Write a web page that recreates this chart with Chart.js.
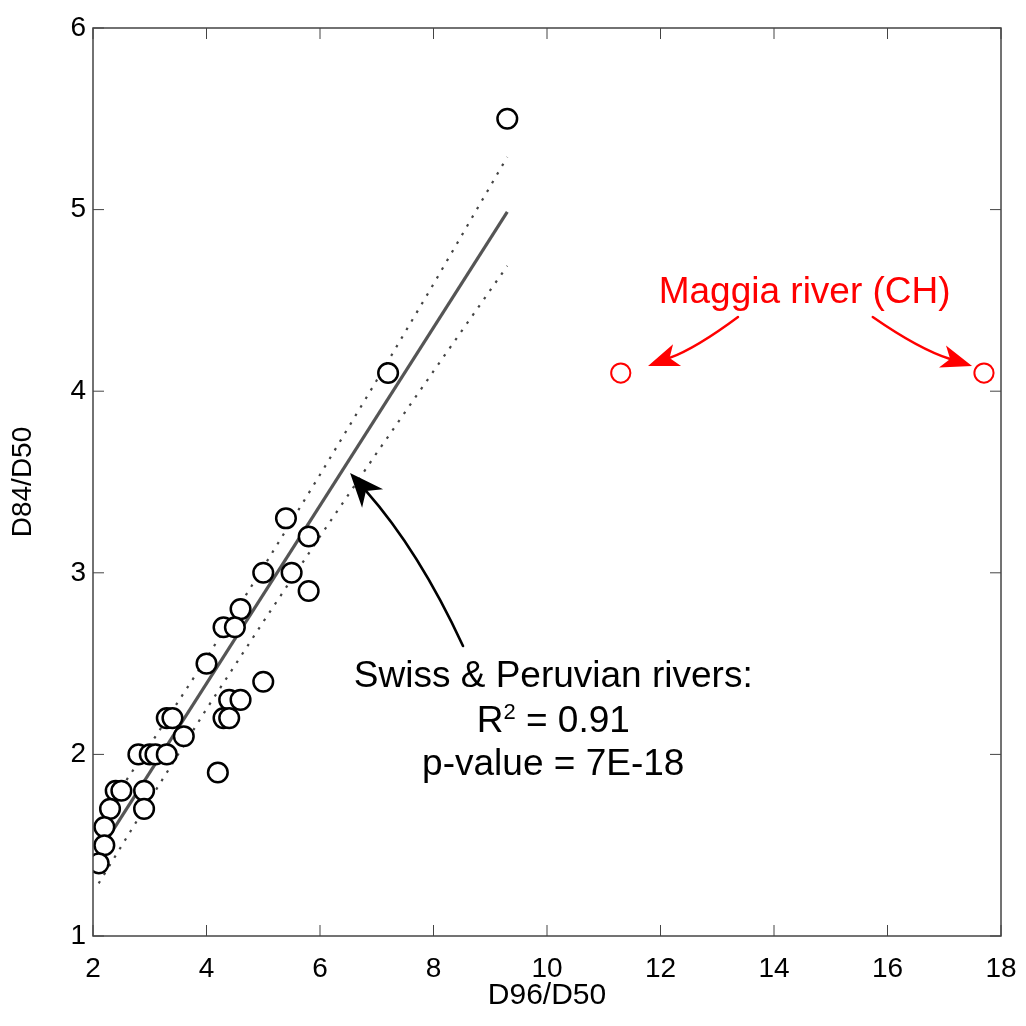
<!DOCTYPE html>
<html><head><meta charset="utf-8">
<script src="https://cdn.jsdelivr.net/npm/chart.js@4.4.1/dist/chart.umd.min.js"></script>
<style>html,body{margin:0;padding:0;background:#fff}#wrap{width:1026px;height:1026px}</style>
</head><body><div id="wrap"><canvas id="c" width="1026" height="1026"></canvas></div>
<script>
// ---- data ----
const xTicks = [2, 4, 6, 8, 10, 12, 14, 16, 18];
const yTicks = [1, 2, 3, 4, 5, 6];
const swissX = [9.3, 7.2, 5.4, 5.8, 5.0, 5.5, 5.8, 4.6, 4.3, 4.5, 4.0, 5.0, 4.4, 4.6, 4.3, 4.4, 3.3, 3.4, 3.6, 2.8, 3.0, 3.1, 3.3, 4.2, 2.4, 2.5, 2.9, 2.3, 2.9, 2.2, 2.2, 2.1];
const swissY = [5.5, 4.1, 3.3, 3.2, 3.0, 3.0, 2.9, 2.8, 2.7, 2.7, 2.5, 2.4, 2.3, 2.3, 2.2, 2.2, 2.2, 2.2, 2.1, 2.0, 2.0, 2.0, 2.0, 1.9, 1.8, 1.8, 1.8, 1.7, 1.7, 1.6, 1.5, 1.4];
const maggiaX = [11.3, 17.7];
const maggiaY = [4.1, 4.1];
const fitX = [2.1, 9.3];
const fitY = [1.459, 4.987];
const bandX = [2.1, 3, 4, 5, 6, 7, 8, 9.3];
const bandUpper = [1.63, 2.05, 2.53, 3.03, 3.54, 4.06, 4.59, 5.29];
const bandLower = [1.29, 1.75, 2.25, 2.73, 3.20, 3.66, 4.11, 4.69];

const pts = (xs, ys) => xs.map((x, i) => ({x, y: ys[i]}));
const FONT = '"Liberation Sans", Arial, Helvetica, sans-serif';

function drawArrow(ctx, p0, c, p1, color, lw, L, H, n) {
  const ang = Math.atan2(p1.y - c.y, p1.x - c.x);
  const dx = Math.cos(ang), dy = Math.sin(ang);
  const px = -dy, py = dx;
  const notch = {x: p1.x - (L - n) * dx, y: p1.y - (L - n) * dy};
  ctx.save();
  ctx.strokeStyle = color; ctx.fillStyle = color; ctx.lineWidth = lw; ctx.lineCap = 'round';
  ctx.beginPath(); ctx.moveTo(p0.x, p0.y); ctx.quadraticCurveTo(c.x, c.y, notch.x, notch.y); ctx.stroke();
  ctx.beginPath();
  ctx.moveTo(p1.x, p1.y);
  ctx.lineTo(p1.x - L * dx + H * px, p1.y - L * dy + H * py);
  ctx.lineTo(notch.x, notch.y);
  ctx.lineTo(p1.x - L * dx - H * px, p1.y - L * dy - H * py);
  ctx.closePath(); ctx.fill();
  ctx.restore();
}

const framePlugin = {
  id: 'frame',
  afterDraw(chart) {
    const {ctx, chartArea: a, scales: {x, y}} = chart;
    const o = chart.options.plugins.frame;
    ctx.save();
    ctx.strokeStyle = '#444'; ctx.lineWidth = 1.5;
    ctx.strokeRect(a.left, a.top, a.right - a.left, a.bottom - a.top);
    ctx.lineWidth = 1; ctx.strokeStyle = '#444';
    ctx.beginPath();
    xTicks.forEach(v => {
      const px = x.getPixelForValue(v);
      ctx.moveTo(px, a.bottom); ctx.lineTo(px, a.bottom - o.tick);
      ctx.moveTo(px, a.top); ctx.lineTo(px, a.top + o.tick);
    });
    yTicks.forEach(v => {
      const py = y.getPixelForValue(v);
      ctx.moveTo(a.left, py); ctx.lineTo(a.left + o.tick, py);
      ctx.moveTo(a.right, py); ctx.lineTo(a.right - o.tick, py);
    });
    ctx.stroke();

    const P = (d) => ({x: x.getPixelForValue(d[0]), y: y.getPixelForValue(d[1])});
    const s = o.swiss;
    ctx.fillStyle = '#000'; ctx.font = '37px ' + FONT; ctx.textBaseline = 'alphabetic';
    const cx = x.getPixelForValue(s.cx);
    ctx.textAlign = 'center';
    ctx.fillText(s.lines[0], cx, y.getPixelForValue(s.base[0]));
    ctx.textAlign = 'left';
    ctx.font = '37px ' + FONT; const wR = ctx.measureText('R').width; const wRest = ctx.measureText(' = 0.91').width;
    ctx.font = '22px ' + FONT; const wS = ctx.measureText('2').width;
    let sx = cx - (wR + wS + wRest) / 2; const b2 = y.getPixelForValue(s.base[1]);
    ctx.font = '37px ' + FONT; ctx.fillText('R', sx, b2);
    ctx.font = '22px ' + FONT; ctx.fillText('2', sx + wR, b2 - 13);
    ctx.font = '37px ' + FONT; ctx.fillText(' = 0.91', sx + wR + wS, b2);
    ctx.textAlign = 'center';
    ctx.fillText(s.lines[2], cx, y.getPixelForValue(s.base[2]));
    drawArrow(ctx, P(s.arrow[0]), P(s.arrow[1]), P(s.arrow[2]), '#000', 2.6, 34, 14, 10);

    const m = o.maggia;
    ctx.fillStyle = '#ff0000'; ctx.font = '37px ' + FONT; ctx.textAlign = 'center';
    ctx.fillText(m.text, x.getPixelForValue(m.cx), y.getPixelForValue(m.base));
    drawArrow(ctx, P(m.left[0]), P(m.left[1]), P(m.left[2]), '#ff0000', 2.4, 31, 11.5, 8);
    drawArrow(ctx, P(m.right[0]), P(m.right[1]), P(m.right[2]), '#ff0000', 2.4, 31, 11.5, 8);
    ctx.restore();
  }
};

new Chart(document.getElementById('c'), {
  type: 'scatter',
  data: {
    datasets: [
      {label: 'Swiss & Peruvian', data: pts(swissX, swissY), order: 0,
       pointRadius: 9.8, pointBorderWidth: 2.5, borderColor: '#000', backgroundColor: '#fff',
       pointBackgroundColor: '#fff', pointBorderColor: '#000'},
      {label: 'Maggia', data: pts(maggiaX, maggiaY), order: 0,
       pointRadius: 9.6, pointBorderWidth: 2, pointBorderColor: '#ff0000', pointBackgroundColor: '#fff'},
      {label: 'fit', data: pts(fitX, fitY), showLine: true, order: 2, pointRadius: 0,
       borderColor: '#555', borderWidth: 3.2},
      {label: 'upper', data: pts(bandX, bandUpper), showLine: true, order: 3, pointRadius: 0,
       borderColor: '#444', borderWidth: 2.2, borderDash: [2.5, 7.5], tension: 0},
      {label: 'lower', data: pts(bandX, bandLower), showLine: true, order: 3, pointRadius: 0,
       borderColor: '#444', borderWidth: 2.2, borderDash: [2.5, 7.5], tension: 0}
    ]
  },
  options: {
    responsive: false, animation: false, devicePixelRatio: 1,
    layout: {padding: {left: 0, right: 25, top: 28, bottom: 0}},
    scales: {
      x: {type: 'linear', min: 2, max: 18,
          afterBuildTicks: s => { s.ticks = xTicks.map(v => ({value: v})); },
          afterFit: s => { s.height = 90; s.paddingLeft = 0; s.paddingRight = 0; },
          grid: {display: false, drawTicks: false}, border: {display: false},
          ticks: {color: '#000', font: {family: FONT, size: 28}, padding: 16, maxRotation: 0},
          title: {display: true, text: 'D96/D50', color: '#000', font: {family: FONT, size: 30}, padding: {top: 0, bottom: 12}}},
      y: {type: 'linear', min: 1, max: 6,
          afterBuildTicks: s => { s.ticks = yTicks.map(v => ({value: v})); },
          afterFit: s => { s.width = 93; s.paddingTop = 0; s.paddingBottom = 0; },
          grid: {display: false, drawTicks: false}, border: {display: false},
          ticks: {color: '#000', font: {family: FONT, size: 28}, padding: 7},
          title: {display: true, text: 'D84/D50', color: '#000', font: {family: FONT, size: 28}, padding: {top: 6, bottom: 0}}}
    },
    plugins: {
      legend: {display: false}, tooltip: {enabled: false},
      frame: {
        tick: 11,
        swiss: {cx: 10.11, base: [2.371, 2.123, 1.887],
                lines: ['Swiss & Peruvian rivers:', 'R2 = 0.91', 'p-value = 7E-18'],
                arrow: [[8.52, 2.597], [7.745, 3.12], [6.53, 3.55]]},
        maggia: {text: 'Maggia river (CH)', cx: 14.54, base: 4.486,
                 left: [[13.366, 4.409], [12.63, 4.238], [11.78, 4.139]],
                 right: [[15.74, 4.409], [16.555, 4.232], [17.49, 4.139]]}
      }
    }
  },
  plugins: [framePlugin]
});
</script>
</body></html>
